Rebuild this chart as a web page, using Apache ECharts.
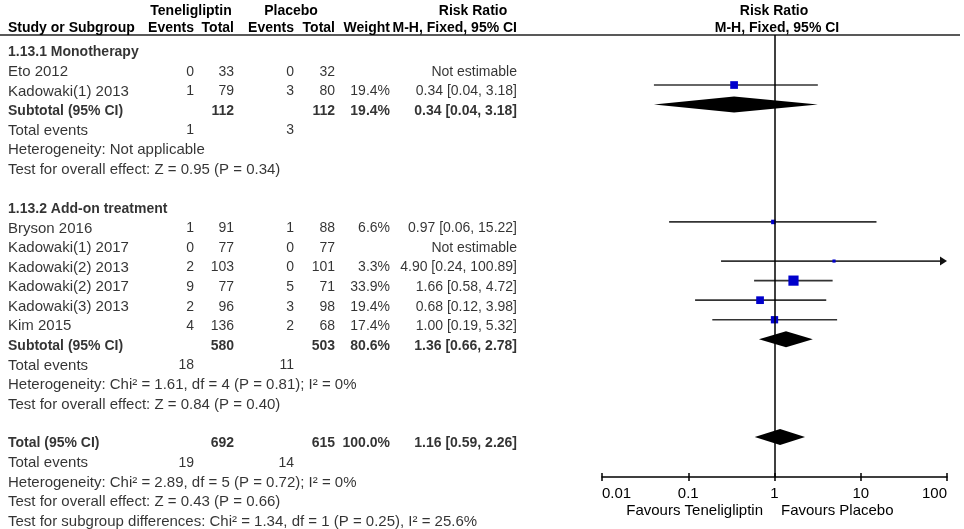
<!DOCTYPE html>
<html>
<head>
<meta charset="utf-8">
<script src="https://cdn.jsdelivr.net/npm/echarts@6/dist/echarts.min.js"></script>
<style>
  html, body { margin: 0; padding: 0; background: #fff; }
  #main { width: 964px; height: 529px; }
</style>
</head>
<body>
<div id="main"></div>
<script>
// studies
var studyNames = ['Eto 2012', 'Kadowaki(1) 2013', 'Bryson 2016', 'Kadowaki(1) 2017',
  'Kadowaki(2) 2013', 'Kadowaki(2) 2017', 'Kadowaki(3) 2013', 'Kim 2015'];
var studyRows = [1, 2, 9, 10, 11, 12, 13, 14];
var teneEvents = [0, 1, 1, 0, 2, 9, 2, 4];
var teneTotal = [33, 79, 91, 77, 103, 77, 96, 136];
var placEvents = [0, 3, 1, 0, 0, 5, 3, 2];
var placTotal = [32, 80, 88, 77, 101, 71, 98, 68];
var weights = [null, 19.4, 6.6, null, 3.3, 33.9, 19.4, 17.4];
var rr = [null, 0.34, 0.97, null, 4.90, 1.66, 0.68, 1.00];
var rrLow = [null, 0.04, 0.06, null, 0.24, 0.58, 0.12, 0.19];
var rrHigh = [null, 3.18, 15.22, null, 100.89, 4.72, 3.98, 5.32];

// pooled rows (subtotals + total)
var pooledNames = ['Subtotal (95% CI)', 'Subtotal (95% CI)', 'Total (95% CI)'];
var pooledRows = [3, 15, 20];
var pooledTeneTotal = [112, 580, 692];
var pooledPlacTotal = [112, 503, 615];
var pooledWeight = [19.4, 80.6, 100.0];
var pooledRR = [0.34, 1.36, 1.16];
var pooledLow = [0.04, 0.66, 0.59];
var pooledHigh = [3.18, 2.78, 2.26];

// total events rows
var eventRows = [4, 16, 21];
var eventTene = [1, 18, 19];
var eventPlac = [3, 11, 14];

// group headings and notes
var groupNames = ['1.13.1 Monotherapy', '1.13.2 Add-on treatment'];
var groupRows = [0, 8];
var noteRows = [5, 6, 17, 18, 22, 23, 24];
var noteTexts = [
  'Heterogeneity: Not applicable',
  'Test for overall effect: Z = 0.95 (P = 0.34)',
  'Heterogeneity: Chi\u00b2 = 1.61, df = 4 (P = 0.81); I\u00b2 = 0%',
  'Test for overall effect: Z = 0.84 (P = 0.40)',
  'Heterogeneity: Chi\u00b2 = 2.89, df = 5 (P = 0.72); I\u00b2 = 0%',
  'Test for overall effect: Z = 0.43 (P = 0.66)',
  'Test for subgroup differences: Chi\u00b2 = 1.34, df = 1 (P = 0.25), I\u00b2 = 25.6%'
];

var tickLabels = ['0.01', '0.1', '1', '10', '100'];

// layout (pixels)
var W = 964, H = 529;
var rowY0 = 45.9, rowH = 19.56, textDy = 6.5;
var plotLeft = 602, plotRight = 947, plotTop = 35, plotBottom = 477;
var col = { name: 8, teneEv: 194, teneTot: 234, placEv: 294, placTot: 335, weight: 390, rr: 517 };
var FONT = "'Liberation Sans', Arial, sans-serif";
var FS = 14, FS_NAME = 15;

function rowAt(py) { return (py - rowY0) / rowH; }

function rrText(v, lo, hi) {
  if (v == null) return 'Not estimable';
  return v.toFixed(2) + ' [' + lo.toFixed(2) + ', ' + hi.toFixed(2) + ']';
}

// table cells
var cells = [];
function cell(x, row, text, align, bold, size) {
  cells.push({ value: [x, row], text: String(text), align: align, bold: bold, size: size || FS });
}

groupNames.forEach(function (n, i) { cell(col.name, groupRows[i], n, 'left', true); });
studyNames.forEach(function (n, i) {
  var r = studyRows[i];
  cell(col.name, r, n, 'left', false, FS_NAME);
  cell(col.teneEv, r, teneEvents[i], 'right', false);
  cell(col.teneTot, r, teneTotal[i], 'right', false);
  cell(col.placEv, r, placEvents[i], 'right', false);
  cell(col.placTot, r, placTotal[i], 'right', false);
  if (weights[i] != null) cell(col.weight, r, weights[i].toFixed(1) + '%', 'right', false);
  cell(col.rr, r, rrText(rr[i], rrLow[i], rrHigh[i]), 'right', false);
});
pooledNames.forEach(function (n, i) {
  var r = pooledRows[i];
  cell(col.name, r, n, 'left', true);
  cell(col.teneTot, r, pooledTeneTotal[i], 'right', true);
  cell(col.placTot, r, pooledPlacTotal[i], 'right', true);
  cell(col.weight, r, pooledWeight[i].toFixed(1) + '%', 'right', true);
  cell(col.rr, r, rrText(pooledRR[i], pooledLow[i], pooledHigh[i]), 'right', true);
});
eventRows.forEach(function (r, i) {
  cell(col.name, r, 'Total events', 'left', false, FS_NAME);
  cell(col.teneEv, r, eventTene[i], 'right', false);
  cell(col.placEv, r, eventPlac[i], 'right', false);
});
noteRows.forEach(function (r, i) { cell(col.name, r, noteTexts[i], 'left', false, FS_NAME); });

var tableData = cells.map(function (c) {
  return {
    value: c.value,
    label: {
      formatter: c.text,
      align: c.align,
      fontSize: c.size,
      fontWeight: c.bold ? 'bold' : 'normal'
    }
  };
});

// plot data
var whiskerData = [];
var squareData = [];
studyNames.forEach(function (n, i) {
  if (rr[i] == null) return;
  whiskerData.push([rrLow[i], rrHigh[i], studyRows[i]]);
  squareData.push([rr[i], studyRows[i], weights[i]]);
});
var diamondData = pooledRows.map(function (r, i) { return [pooledLow[i], pooledRR[i], pooledHigh[i], r]; });

var xMin = 0.01, xMax = 100;

var chart = echarts.init(document.getElementById('main'), null, { renderer: 'canvas' });

function headText(text, x, y, align, weight, size) {
  return {
    type: 'text', silent: true,
    style: { text: text, x: x, y: y, align: align, verticalAlign: 'middle',
      font: (weight || 'bold') + ' ' + (size || FS) + 'px ' + FONT, fill: '#000' }
  };
}

var option = {
  animation: false,
  backgroundColor: '#fff',
  textStyle: { fontFamily: FONT },
  grid: [
    { left: plotLeft, right: W - plotRight, top: plotTop, bottom: H - plotBottom },
    { left: 0, right: 0, top: 0, bottom: 0 }
  ],
  xAxis: [
    {
      gridIndex: 0, type: 'log', logBase: 10, min: xMin, max: xMax, position: 'bottom',
      axisLine: { onZero: false, lineStyle: { color: '#000', width: 1.5 } },
      axisTick: { show: true, length: 4, lineStyle: { color: '#000', width: 1.5 } },
      minorTick: { show: false },
      splitLine: { show: false },
      axisLabel: {
        color: '#000', fontSize: 15, fontFamily: FONT, margin: 9,
        alignMinLabel: 'left', alignMaxLabel: 'right',
        formatter: function (v) { return tickLabels[Math.round(Math.log10(v)) + 2]; }
      }
    },
    {
      gridIndex: 0, type: 'log', logBase: 10, min: xMin, max: xMax, position: 'bottom',
      axisLine: { show: false, onZero: false },
      axisTick: { show: true, inside: true, length: 4, lineStyle: { color: '#000', width: 1.5 } },
      axisLabel: { show: false },
      splitLine: { show: false }
    },
    { gridIndex: 1, type: 'value', min: 0, max: W, show: false }
  ],
  yAxis: [
    { gridIndex: 0, type: 'value', inverse: true, min: rowAt(plotTop), max: rowAt(plotBottom), show: false },
    { gridIndex: 1, type: 'value', inverse: true, min: rowAt(0), max: rowAt(H), show: false }
  ],
  graphic: [
    { type: 'line', silent: true, shape: { x1: 0, y1: plotTop, x2: 960, y2: plotTop }, style: { stroke: '#222', lineWidth: 1.5 } },
    headText('Teneligliptin', 191, 11, 'center'),
    headText('Placebo', 291, 11, 'center'),
    headText('Risk Ratio', 473, 11, 'center'),
    headText('Study or Subgroup', col.name, 28, 'left'),
    headText('Events', col.teneEv, 28, 'right'),
    headText('Total', col.teneTot, 28, 'right'),
    headText('Events', col.placEv, 28, 'right'),
    headText('Total', col.placTot, 28, 'right'),
    headText('Weight', col.weight, 28, 'right'),
    headText('M-H, Fixed, 95% CI', col.rr, 28, 'right'),
    headText('Risk Ratio', 774, 11, 'center'),
    headText('M-H, Fixed, 95% CI', 777, 28, 'center'),
    headText('Favours Teneligliptin', 763, 511, 'right', 'normal', 15),
    headText('Favours Placebo', 781, 511, 'left', 'normal', 15)
  ],
  series: [
    {
      name: 'table', type: 'scatter', xAxisIndex: 2, yAxisIndex: 1,
      symbolSize: 0, silent: true,
      label: {
        show: true, position: 'inside', verticalAlign: 'middle', offset: [0, textDy],
        color: '#000', fontSize: FS, fontFamily: FONT
      },
      data: tableData
    },
    {
      name: 'ci', type: 'custom', xAxisIndex: 0, yAxisIndex: 0, silent: true,
      renderItem: function (params, api) {
        var lo = api.value(0), hi = api.value(1), r = api.value(2);
        var p1 = api.coord([Math.max(lo, xMin), r]);
        var p2 = api.coord([Math.min(hi, xMax), r]);
        var children = [{
          type: 'line',
          shape: { x1: p1[0], y1: p1[1], x2: hi > xMax ? p2[0] - 6 : p2[0], y2: p2[1] },
          style: { stroke: '#333', lineWidth: 1.7 }
        }];
        if (hi > xMax) {
          children.push({
            type: 'polygon',
            shape: { points: [[p2[0], p2[1]], [p2[0] - 7, p2[1] - 4.5], [p2[0] - 7, p2[1] + 4.5]] },
            style: { fill: '#111' }
          });
        }
        return { type: 'group', children: children };
      },
      data: whiskerData, z: 2
    },
    {
      name: 'rr', type: 'scatter', xAxisIndex: 0, yAxisIndex: 0, silent: true,
      symbol: 'rect',
      symbolSize: function (v) { return 1.75 * Math.sqrt(v[2]); },
      itemStyle: { color: '#0000cc', opacity: 1 },
      data: squareData, z: 3,
      markLine: {
        silent: true, symbol: 'none', label: { show: false },
        lineStyle: { color: '#000', type: 'solid', width: 1.5 },
        data: [{ xAxis: 1 }]
      }
    },
    {
      name: 'pooled', type: 'custom', xAxisIndex: 0, yAxisIndex: 0, silent: true,
      renderItem: function (params, api) {
        var r = api.value(3);
        var a = api.coord([api.value(0), r]);
        var m = api.coord([api.value(1), r]);
        var b = api.coord([api.value(2), r]);
        var h = 8;
        return {
          type: 'polygon',
          shape: { points: [[a[0], a[1]], [m[0], m[1] - h], [b[0], b[1]], [m[0], m[1] + h]] },
          style: { fill: '#000' }
        };
      },
      data: diamondData, z: 4
    }
  ]
};

chart.setOption(option);
</script>
</body>
</html>
